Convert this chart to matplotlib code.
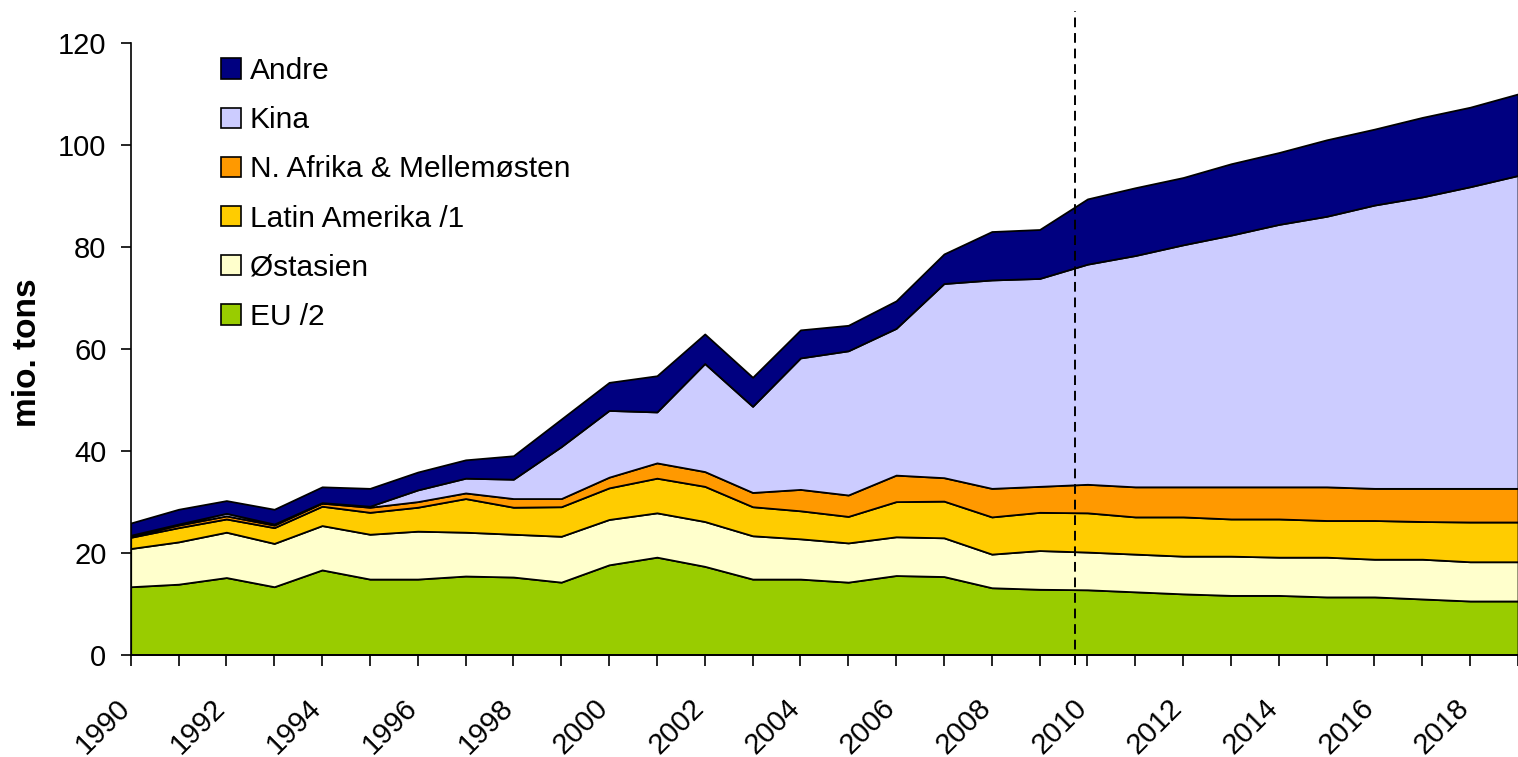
import matplotlib

matplotlib.use('Agg')
import numpy as np
import matplotlib.pyplot as plt
import matplotlib.transforms as mtransforms
from matplotlib.patches import Patch

plt.rcParams['font.family'] = ['Liberation Sans', 'DejaVu Sans']

years = np.arange(1990, 2020)

# mio. tons per region
eu = [13.3, 13.8, 15.1, 13.3, 16.6, 14.8, 14.8, 15.4, 15.2, 14.2,
      17.6, 19.1, 17.3, 14.8, 14.8, 14.2, 15.5, 15.3, 13.1, 12.8,
      12.7, 12.3, 11.9, 11.6, 11.6, 11.3, 11.3, 10.9, 10.5, 10.5]
oestasien = [7.5, 8.3, 8.9, 8.5, 8.7, 8.8, 9.4, 8.6, 8.4, 9.0,
             8.9, 8.7, 8.8, 8.5, 7.9, 7.7, 7.6, 7.6, 6.6, 7.6,
             7.4, 7.4, 7.4, 7.7, 7.5, 7.8, 7.4, 7.8, 7.7, 7.7]
latin = [2.2, 2.8, 2.6, 3.1, 3.8, 4.3, 4.7, 6.6, 5.3, 5.8,
         6.2, 6.8, 6.9, 5.7, 5.5, 5.2, 6.9, 7.2, 7.3, 7.5,
         7.7, 7.3, 7.7, 7.3, 7.5, 7.2, 7.6, 7.4, 7.8, 7.8]
nafrika = [0.2, 0.5, 0.6, 0.5, 0.6, 1.0, 1.1, 1.1, 1.7, 1.6,
           2.1, 3.0, 2.9, 2.8, 4.2, 4.2, 5.2, 4.6, 5.6, 5.1,
           5.6, 5.9, 5.9, 6.3, 6.3, 6.6, 6.3, 6.5, 6.6, 6.6]
kina = [0.2, 0.2, 0.5, 0.2, 0.1, 0.2, 2.3, 2.9, 3.8, 10.2,
        13.1, 10.0, 21.2, 16.9, 25.8, 28.3, 28.8, 38.1, 40.9, 40.8,
        43.2, 45.4, 47.5, 49.4, 51.5, 53.1, 55.6, 57.2, 59.2, 61.4]
andre = [2.4, 2.9, 2.5, 2.9, 3.1, 3.5, 3.5, 3.6, 4.6, 5.4,
         5.5, 7.1, 5.8, 5.7, 5.5, 5.0, 5.4, 5.8, 9.5, 9.6,
         12.8, 13.3, 13.2, 14.0, 14.1, 15.0, 14.9, 15.6, 15.6, 16.0]

labels = ['EU /2', 'Østasien', 'Latin Amerika /1', 'N. Afrika & Mellemøsten', 'Kina', 'Andre']
colors = ['#99CC00', '#FFFFCC', '#FFCC00', '#FF9900', '#CCCCFF', '#000080']
forecast_start = 2009.75

fig = plt.figure(figsize=(15.18, 7.57), dpi=100)
ax = fig.add_axes([0.0861, 0.1354, 0.9139, 0.8078])

ax.stackplot(years, eu, oestasien, latin, nafrika, kina, andre,
             colors=colors, edgecolor='black', linewidth=1.3)

ax.plot([forecast_start, forecast_start], [-2, 126.2], color='black',
        linestyle=(0, (5, 3)), linewidth=1.4, clip_on=False, zorder=5)

ax.set_xlim(1990, 2018.72)
ax.set_ylim(0, 120)
ax.set_yticks(np.arange(0, 121, 20))
ax.set_xticks(years)
ax.set_xticklabels([str(y) if y % 2 == 0 else '' for y in years],
                   rotation=45, ha='right', va='top', rotation_mode='anchor')
ax.tick_params(axis='both', direction='out', width=1.2, labelsize=21, color='black')
ax.tick_params(axis='x', length=8, pad=20)
ax.tick_params(axis='y', length=7.5, pad=10)

shift = mtransforms.ScaledTranslation(-0.15, 0, fig.dpi_scale_trans)
for lab in ax.get_xticklabels():
    lab.set_transform(lab.get_transform() + shift)

for s in ['top', 'right']:
    ax.spines[s].set_visible(False)
for s in ['left', 'bottom']:
    ax.spines[s].set_linewidth(1.2)

ax.set_ylabel('mio. tons', fontsize=24, fontweight='bold')
ax.yaxis.set_label_coords(-0.063, 0.493)

handles = [Patch(facecolor=c, edgecolor='black', linewidth=1.2) for c in colors]
ax.legend(handles[::-1], labels[::-1], loc='upper left',
          bbox_to_anchor=(221 / 1518, 1 - 57 / 757), bbox_transform=fig.transFigure,
          frameon=False, fontsize=21.5, borderpad=0, borderaxespad=0,
          handlelength=0.67, handleheight=0.67, handletextpad=0.3,
          labelspacing=0.71)

fig.savefig('out.png', dpi=100)
